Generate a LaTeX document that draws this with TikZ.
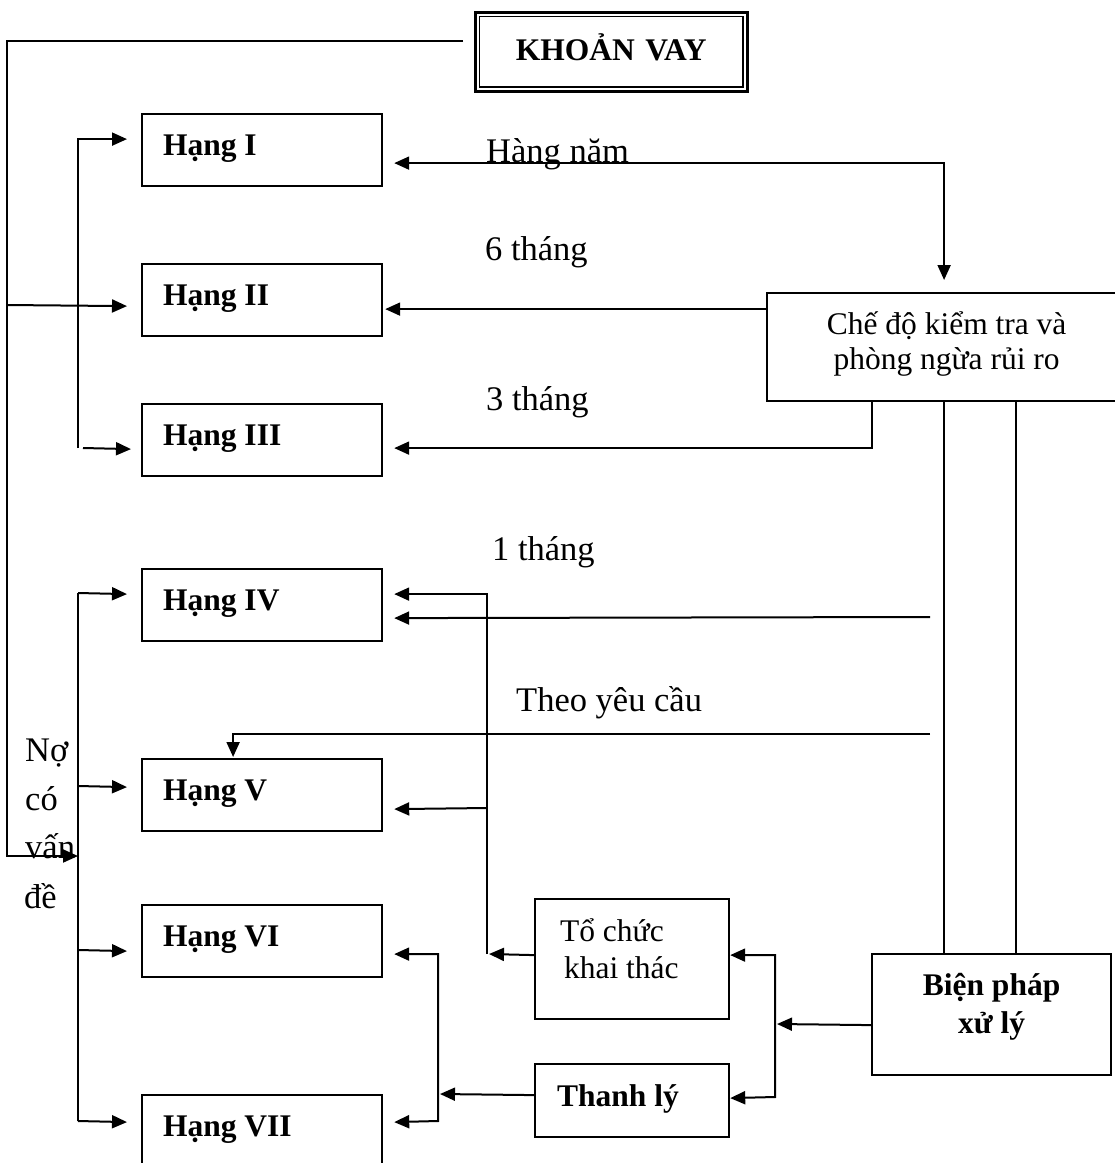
\documentclass[tikz,border=0pt]{standalone}
\usepackage{fontspec}
\setmainfont{Liberation Serif}
\usetikzlibrary{arrows.meta,calc}

% type sizes used in the chart
\newcommand\lblsize{\fontsize{34.5pt}{40pt}\selectfont}
\newcommand\boxreg{\fontsize{31.5pt}{35pt}\selectfont}
\newcommand\boxregb{\fontsize{31.5pt}{37pt}\selectfont}
\newcommand\boxbold{\fontsize{31.5pt}{38pt}\selectfont\bfseries}
% natural word spaces inside aligned node text
\newcommand\natspace{\spaceskip=0pt\xspaceskip=0pt\relax}

\tikzset{
  boxline/.style={draw, line width=2.2pt, anchor=north west, inner ysep=0pt,
                  execute at begin node=\natspace},
  hang/.style={boxline, inner xsep=21pt, text width=198pt, align=left,
               text height=41pt, text depth=31pt, font=\boxbold},
  conn/.style={line width=2pt},
  arr/.style={conn, -{Triangle[length=15pt,width=13pt]}},
  arrboth/.style={conn, {Triangle[length=15pt,width=13pt]}-{Triangle[length=15pt,width=13pt]}},
  lbl/.style={font=\lblsize, inner sep=0pt, anchor=base west},
}

\begin{document}
\begin{tikzpicture}[x=1pt, y=-1pt]
\useasboundingbox (0,0) rectangle (1115,1163);
\clip (0,0) rectangle (1115,1163);

% ---- title box with double frame
\node[boxline, line width=2.6pt, inner xsep=0pt, text width=272pt, align=center,
      text height=48pt, text depth=31pt, font=\boxbold] (kv) at (474,11) {KHOẢN VAY};
\draw[line width=1.6pt] ($(kv.north west)+(5.5,5.5)$) rectangle ($(kv.south east)+(-5.5,-5.5)$);

% ---- loan grades
\node[hang] (h1) at (141,113)  {Hạng I};
\node[hang] (h2) at (141,263)  {Hạng II};
\node[hang] (h3) at (141,403)  {Hạng III};
\node[hang] (h4) at (141,568)  {Hạng IV};
\node[hang] (h5) at (141,758)  {Hạng V};
\node[hang] (h6) at (141,904)  {Hạng VI};
\node[hang] (h7) at (141,1094) {Hạng VII};

% ---- control regime, handling measures and their branches
\node[boxline, inner xsep=0pt, text width=359pt, align=center,
      text height=41pt, text depth=67pt, font=\boxreg] (ck) at (766,292)
  {\begin{tabular}[t]{@{}c@{}}Chế độ kiểm tra và\\ phòng ngừa rủi ro\end{tabular}};
\node[boxline, inner xsep=0pt, text width=239pt, align=center,
      text height=41pt, text depth=80pt, font=\boxbold] (bp) at (871,953)
  {\begin{tabular}[t]{@{}c@{}}Biện pháp\\ xử lý\end{tabular}};
\node[boxline, inner xsep=25pt, text width=144pt, align=left,
      text height=42pt, text depth=78pt, font=\boxregb] (tc) at (534,898)
  {\begin{tabular}[t]{@{}l@{}}Tổ chức\\ \hspace{4pt}khai thác\end{tabular}};
\node[boxline, inner xsep=22pt, text width=150pt, align=left,
      text height=42pt, text depth=31pt, font=\boxbold] (tl) at (534,1063) {Thanh lý};

% ---- free ends of connectors
\coordinate (kvtap) at (463,41);
\coordinate (m1) at (930,617);
\coordinate (m2) at (930,734);

% ---- left trunk and distribution buses
\draw[arr] (kvtap) -| (7,856) -- (78,856);
\draw[arr] (78,448) |- ($(h1.west)+(-14,-11)$);
\draw[arr] (7,305) -- ($(h2.west)+(-14,6)$);
\draw[arr] (83,448) -- ($(h3.west)+(-10,9)$);
\draw[conn] (78,593) -- (78,1121);
\draw[arr] (78,593)  -- ($(h4.west)+(-14,-11)$);
\draw[arr] (78,786)  -- ($(h5.west)+(-14,-8)$);
\draw[arr] (78,950)  -- ($(h6.west)+(-14,10)$);
\draw[arr] (78,1121) -- ($(h7.west)+(-14,-9)$);

% ---- inspection intervals
\draw[arrboth] ($(h1.east)+(11,13)$) -| ($(ck.north)+(-2.5,-12)$);
\draw[arr] ($(ck.west)+(0,-38)$) -- ($(h2.east)+(2,9)$);
\draw[arr] ($(ck.south)+(-74.5,0)$) |- ($(h3.east)+(11,8)$);
\draw[conn] ($(ck.south)+(-2.5,0)$) -- ($(bp.north)+(-47.5,0)$);
\draw[conn] ($(ck.south)+(69.5,0)$) -- ($(bp.north)+(24.5,0)$);
\draw[arr] (m1) -- ($(h4.east)+(11,13)$);
\draw[arr] (m2) -| ($(h5.north)+(-29,-1)$);

% ---- handling branches
\draw[arr] (487,954) |- ($(h4.east)+(11,-11)$);
\draw[arr] (487,808) -- ($(h5.east)+(11,14)$);
\draw[arr] ($(tc.west)+(0,-4)$) -- (489,954);
\draw[arr] ($(bp.west)+(0,10.5)$) -- (777,1024);
\draw[arrboth] ($(tc.east)+(0,-4)$) -| (775,1097) -- ($(tl.east)+(0,-2.5)$);
\draw[arrboth] ($(h6.east)+(11,13)$) -| (438,1121) -- ($(h7.east)+(11,-9)$);
\draw[arr] ($(tl.west)+(0,-5.5)$) -- (440,1094);

% ---- labels
\node[lbl] (lbA) at (486,162) {Hàng năm};
\node[lbl] (lbB) at (485,260) {6 tháng};
\node[lbl] (lbC) at (486,410) {3 tháng};
\node[lbl] (lbD) at (492,560) {1 tháng};
\node[lbl] (lbE) at (516,711) {Theo yêu cầu};
\node[lbl] (nq1) at (25,761) {Nợ};
\node[lbl] (nq2) at (25,810) {có};
\node[lbl] (nq3) at (25,858) {vấn};
\node[lbl] (nq4) at (24,908) {đề};
\end{tikzpicture}
\end{document}
